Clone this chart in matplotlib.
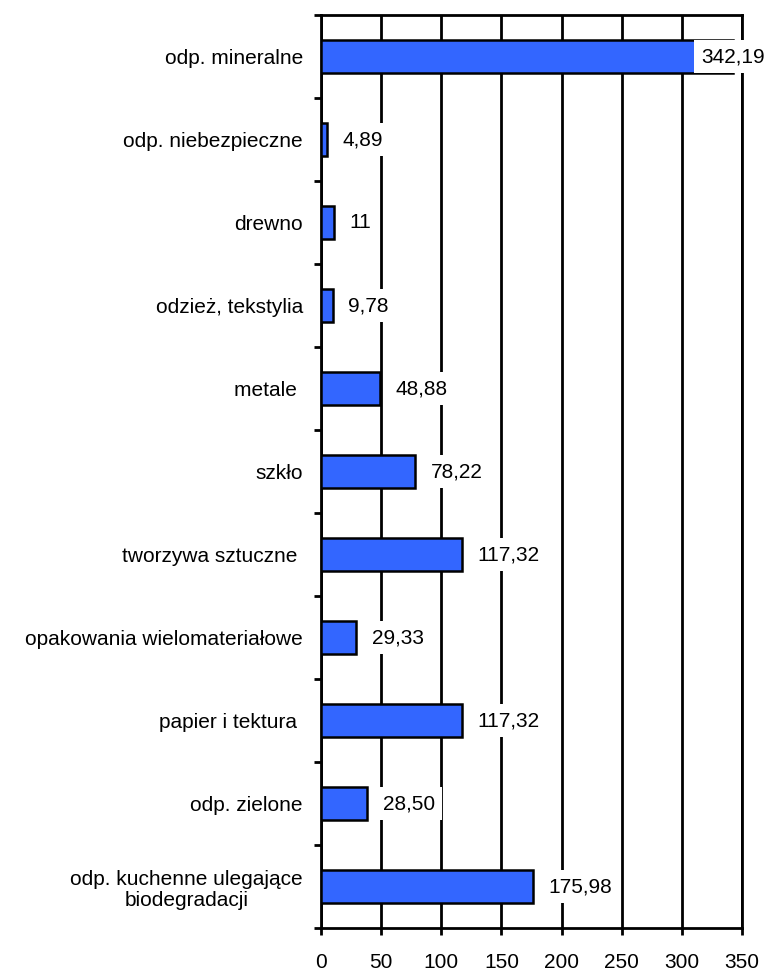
import numpy as np
import matplotlib.pyplot as plt

plt.rcParams['font.family'] = ['Liberation Sans', 'DejaVu Sans']

# categories from top to bottom
categories = ['odp. mineralne', 'odp. niebezpieczne', 'drewno', 'odzież, tekstylia',
              'metale ', 'szkło', 'tworzywa sztuczne ', 'opakowania wielomateriałowe',
              'papier i tektura ', 'odp. zielone',
              'odp. kuchenne ulegające\nbiodegradacji']
# bar lengths as drawn
values = [342.19, 4.89, 11, 9.78, 48.88, 78.22, 117.32, 29.33, 117.32, 38.5, 175.98]
# printed value labels
value_labels = ['342,19', '4,89', '11', '9,78', '48,88', '78,22', '117,32',
                '29,33', '117,32', '28,50', '175,98']
xticks = [0, 50, 100, 150, 200, 250, 300, 350]

fig = plt.figure(figsize=(7.69, 9.74), dpi=100)
ax = fig.add_axes([0.4174, 0.0472, 0.5475, 0.9374])

y = np.arange(len(categories))
ax.set_axisbelow(True)
ax.xaxis.grid(True, color='black', linewidth=2)
ax.barh(y, values, height=0.4, color='#3366FF', edgecolor='black', linewidth=1.8, zorder=3)

ax.set_xlim(0, 350)
ax.set_ylim(len(categories) - 0.5, -0.5)
ax.set_xticks(xticks)
ax.set_xticklabels([str(t) for t in xticks], fontsize=15)
ax.set_yticks(y)
ax.set_yticklabels(categories, fontsize=15, multialignment='center', linespacing=1.15)
ax.tick_params(axis='y', which='major', length=0, pad=13)
ax.set_yticks(np.arange(len(categories) + 1) - 0.5, minor=True)
ax.tick_params(axis='y', which='minor', length=5, width=2, direction='out')
ax.tick_params(axis='x', length=5, width=2, direction='out', pad=13)

for s in ax.spines.values():
    s.set_linewidth(2)

for yi, v, lab in zip(y, values, value_labels):
    xpos = min(v + 13, 316)
    ax.text(xpos, yi, lab, fontsize=15, va='center', ha='left', zorder=4,
            bbox=dict(facecolor='white', edgecolor='none', pad=5))

fig.savefig('out.png', dpi=100)
